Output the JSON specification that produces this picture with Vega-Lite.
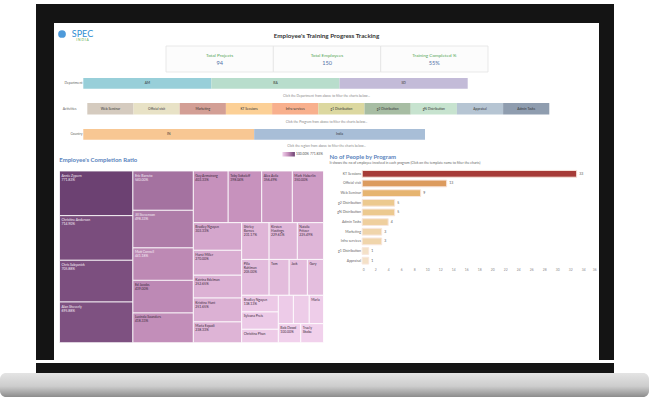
{
  "$schema": "https://vega.github.io/schema/vega-lite/v6.json",
  "padding": {"left": 0, "top": 4, "right": 0, "bottom": 0},
  "background": "white",
  "config": {"view": {"stroke": null}, "font": "Lato", "axis": {"labelFont": "Lato"}, "title": {"font": "Lato"}, "text": {"font": "Lato"}},
  "datasets": {
    "blank": [{}],
    "logo": [{"part": "icon"}, {"part": "word"}],
    "cards": [
      {"metric": "Total Projects", "value": "94"},
      {"metric": "Total Employees", "value": "150"},
      {"metric": "Training Completed %", "value": "55%"}
    ],
    "dept": [{"group": "Department", "seg": "AM"}, {"group": "Department", "seg": "BA"}, {"group": "Department", "seg": "SD"}],
    "acts": [
      {"group": "Activities", "seg": "Web Seminar"},
      {"group": "Activities", "seg": "Official visit"},
      {"group": "Activities", "seg": "Marketing"},
      {"group": "Activities", "seg": "KT Sessions"},
      {"group": "Activities", "seg": "Infra services"},
      {"group": "Activities", "seg": "g1 Distribution"},
      {"group": "Activities", "seg": "g2 Distribution"},
      {"group": "Activities", "seg": "gN Distribution"},
      {"group": "Activities", "seg": "Appraisal"},
      {"group": "Activities", "seg": "Admin Tasks"}
    ],
    "country": [{"group": "Country", "seg": "IN"}, {"group": "Country", "seg": "India"}],
    "legend": [{"slot": "lo", "label": "100.00%"}, {"slot": "grad", "label": ""}, {"slot": "hi", "label": "771.83%"}],
    "programs": [
      {"program": "KT Sessions", "count": 33},
      {"program": "Official visit", "count": 13},
      {"program": "Web Seminar", "count": 9},
      {"program": "g2 Distribution", "count": 5},
      {"program": "gN Distribution", "count": 5},
      {"program": "Admin Tasks", "count": 4},
      {"program": "Marketing", "count": 3},
      {"program": "Infra services", "count": 3},
      {"program": "g1 Distribution", "count": 1},
      {"program": "Appraisal", "count": 1}
    ],
    "people": [
      {"label": "Annie Zypern\n\n771.83%", "value": 771.83, "x0": 0, "x1": 27.8, "y0": 0, "y1": 26.0},
      {"label": "Christine Anderson\n\n714.90%", "value": 714.9, "x0": 0, "x1": 27.8, "y0": 26.0, "y1": 52.0},
      {"label": "Chris Sabyanick\n\n705.88%", "value": 705.88, "x0": 0, "x1": 27.8, "y0": 52.0, "y1": 76.3},
      {"label": "Alan Sheverly\n\n695.88%", "value": 695.88, "x0": 0, "x1": 27.8, "y0": 76.3, "y1": 100},
      {"label": "Eric Barreto\n\n540.00%", "value": 540, "x0": 27.8, "x1": 50.7, "y0": 0, "y1": 22.9},
      {"label": "Jill Stevenson\n\n498.33%", "value": 498.33, "x0": 27.8, "x1": 50.7, "y0": 22.9, "y1": 44.8},
      {"label": "Matt Connell\n\n441.18%", "value": 441.18, "x0": 27.8, "x1": 50.7, "y0": 44.8, "y1": 63.7},
      {"label": "Ed Jacobs\n\n439.00%", "value": 439, "x0": 27.8, "x1": 50.7, "y0": 63.7, "y1": 82.7},
      {"label": "Lucinda Saunders\n\n418.33%", "value": 418.33, "x0": 27.8, "x1": 50.7, "y0": 82.7, "y1": 100},
      {"label": "Guy Armstrong\n403.33%", "value": 403.33, "x0": 50.7, "x1": 63.9, "y0": 0, "y1": 30.1},
      {"label": "Toby Sokoleff\n\n398.04%", "value": 398.04, "x0": 63.9, "x1": 76.6, "y0": 0, "y1": 30.1},
      {"label": "Alex Avila\n\n356.49%", "value": 356.49, "x0": 76.6, "x1": 88.2, "y0": 0, "y1": 30.1},
      {"label": "Mark Haberlin\n\n350.00%", "value": 350, "x0": 88.2, "x1": 100, "y0": 0, "y1": 30.1},
      {"label": "Bradley Nguyen\n\n\n303.33%", "value": 303.33, "x0": 50.7, "x1": 69.0, "y0": 30.1, "y1": 46.2},
      {"label": "Hurst Miller\n\n270.00%", "value": 270, "x0": 50.7, "x1": 69.0, "y0": 46.2, "y1": 60.7},
      {"label": "Katrina Edelman\n\n252.65%", "value": 252.65, "x0": 50.7, "x1": 69.0, "y0": 60.7, "y1": 74.0},
      {"label": "Kristina Hunt\n\n251.65%", "value": 251.65, "x0": 50.7, "x1": 69.0, "y0": 74.0, "y1": 87.9},
      {"label": "Maria Ezpadi\n238.33%", "value": 238.33, "x0": 50.7, "x1": 69.0, "y0": 87.9, "y1": 100},
      {"label": "Shirley\nBarnes\n\n231.17%", "value": 231.17, "x0": 69.0, "x1": 79.4, "y0": 30.1, "y1": 51.5},
      {"label": "Kirsten\nHastings\n\n229.61%", "value": 229.61, "x0": 79.4, "x1": 90.1, "y0": 30.1, "y1": 51.5},
      {"label": "Natalie\nFritzer\n\n225.49%", "value": 225.49, "x0": 90.1, "x1": 100, "y0": 30.1, "y1": 51.5},
      {"label": "Pilla\nRuhlman\n205.00%", "value": 205, "x0": 69.0, "x1": 79.4, "y0": 51.5, "y1": 72.4},
      {"label": "Tom", "value": 200, "x0": 79.4, "x1": 87.0, "y0": 51.5, "y1": 72.4},
      {"label": "Jack", "value": 195, "x0": 87.0, "x1": 93.9, "y0": 51.5, "y1": 72.4},
      {"label": "Gary", "value": 190, "x0": 93.9, "x1": 100, "y0": 51.5, "y1": 72.4},
      {"label": "Bradley Nguyen\n138.13%", "value": 138.13, "x0": 69.0, "x1": 82.9, "y0": 72.4, "y1": 82.1},
      {"label": "Sylvana Preis", "value": 135, "x0": 69.0, "x1": 82.9, "y0": 82.1, "y1": 92.2},
      {"label": "Christina Phan", "value": 130, "x0": 69.0, "x1": 82.9, "y0": 92.2, "y1": 100},
      {"label": "", "value": 128, "x0": 82.9, "x1": 88.6, "y0": 72.4, "y1": 88.9},
      {"label": "", "value": 125, "x0": 88.6, "x1": 94.6, "y0": 72.4, "y1": 88.9},
      {"label": "Marla", "value": 120, "x0": 94.6, "x1": 100, "y0": 72.4, "y1": 88.9},
      {"label": "Bob Dowd\n\n100.00%", "value": 100, "x0": 82.9, "x1": 91.4, "y0": 88.9, "y1": 100},
      {"label": "Truely\nSkobe", "value": 100, "x0": 91.4, "x1": 100, "y0": 88.9, "y1": 100}
    ]
  },
  "spacing": 0,
  "resolve": {"scale": {"x": "independent", "y": "independent", "color": "independent"}},
  "vconcat": [
    {
      "hconcat": [
        {"width": 36, "height": 19, "data": {"name": "blank"}, "mark": {"type": "text", "text": "", "fontSize": 0.5}},
        {"width": 578, "height": 19, "data": {"name": "blank"}, "mark": {"type": "text", "text": "", "fontSize": 0.5}, "view": {"fill": "#141414", "stroke": null}}
      ],
      "spacing": 0
    },
    {
      "hconcat": [
        {"width": 36, "height": 1, "data": {"name": "blank"}, "mark": {"type": "text", "text": "", "fontSize": 0.5}},
        {"width": 18, "height": 337, "data": {"name": "blank"}, "mark": {"type": "text", "text": "", "fontSize": 0.5}, "view": {"fill": "#141414", "stroke": null}},
        {
          "spacing": 0,
          "resolve": {"scale": {"x": "independent", "y": "independent", "color": "independent"}},
          "vconcat": [
            {
              "width": 545, "height": 22,
              "layer": [
                {"data": {"name": "blank"}, "mark": {"type": "text", "text": "Employee's Training Progress Tracking", "fontSize": 6.3, "fontWeight": "bold", "color": "#333333", "dy": 1.7}},
                {"data": {"name": "logo"}, "transform": [{"filter": "datum.part === 'icon'"}],
                 "mark": {"type": "point", "filled": true, "size": 60, "color": "#3b8fd6", "opacity": 0.9},
                 "encoding": {"x": {"field": "part", "type": "nominal", "sort": null, "scale": {"domain": ["icon", "word"], "range": [-2.25, 38.75], "paddingInner": 0, "paddingOuter": 0}, "axis": null}}},
                {"data": {"name": "logo"}, "transform": [{"filter": "datum.part === 'word'"}],
                 "mark": {"type": "text", "text": "SPEC", "fontSize": 9, "color": "#2f8ed3", "dy": -0.5},
                 "encoding": {"x": {"field": "part", "type": "nominal", "sort": null, "scale": {"domain": ["icon", "word"], "range": [-2.25, 38.75], "paddingInner": 0, "paddingOuter": 0}, "axis": null}}},
                {"data": {"name": "logo"}, "transform": [{"filter": "datum.part === 'word'"}],
                 "mark": {"type": "text", "text": "I N D I A", "fontSize": 3.3, "color": "#5aa946", "dy": 6},
                 "encoding": {"x": {"field": "part", "type": "nominal", "sort": null, "scale": {"domain": ["icon", "word"], "range": [-2.25, 38.75], "paddingInner": 0, "paddingOuter": 0}, "axis": null}}}
              ]
            },
            {
              "width": 545, "height": 26,
              "data": {"name": "cards"},
              "encoding": {"x": {"field": "metric", "type": "nominal", "sort": null, "scale": {"range": [112, 434], "paddingInner": 0, "paddingOuter": 0}, "axis": null}},
              "layer": [
                {"mark": {"type": "rect", "fill": "#fcfcfc", "stroke": "#e3e3e3", "strokeWidth": 0.8}},
                {"mark": {"type": "text", "fontSize": 4.6, "color": "#55a655", "dy": -3}, "encoding": {"text": {"field": "metric"}}},
                {"mark": {"type": "text", "fontSize": 5.6, "color": "#4f6fa6", "dy": 3.7}, "encoding": {"text": {"field": "value"}}}
              ]
            },
            {
              "width": 545, "height": 15.7,
              "data": {"name": "dept"},
              "encoding": {
                "x": {"field": "seg", "type": "nominal", "sort": null, "scale": {"range": [29.3, 413.7], "paddingInner": 0, "paddingOuter": 0}, "axis": null},
                "y": {"field": "group", "type": "nominal", "scale": {"range": [5, 15.7], "paddingInner": 0, "paddingOuter": 0}, "axis": {"title": null, "offset": -28.5, "ticks": false, "domain": false, "labelPadding": 0.5, "labelFontSize": 3.4, "labelColor": "#666666"}}
              },
              "layer": [
                {"mark": {"type": "rect"}, "encoding": {"color": {"field": "seg", "type": "nominal", "scale": {"domain": ["AM", "BA", "SD"], "range": ["#98cfd9", "#b8ddcc", "#c3bbd8"]}, "legend": null}}},
                {"mark": {"type": "text", "fontSize": 3.3, "color": "#333333"}, "encoding": {"text": {"field": "seg"}}}
              ]
            },
            {"width": 545, "height": 14, "data": {"name": "blank"}, "mark": {"type": "text", "text": "Click the Department from above to filter the charts below...", "fontSize": 3.3, "color": "#888888"}},
            {
              "width": 545, "height": 11.6,
              "data": {"name": "acts"},
              "encoding": {
                "x": {"field": "seg", "type": "nominal", "sort": null, "scale": {"range": [33.3, 495.3], "paddingInner": 0, "paddingOuter": 0}, "axis": null},
                "y": {"field": "group", "type": "nominal", "scale": {"range": [0, 11.6], "paddingInner": 0, "paddingOuter": 0}, "axis": {"title": null, "offset": -22.5, "ticks": false, "domain": false, "labelPadding": 0.5, "labelFontSize": 3.4, "labelColor": "#666666"}}
              },
              "layer": [
                {"mark": {"type": "rect"}, "encoding": {"color": {"field": "seg", "type": "nominal", "scale": {"domain": ["Web Seminar", "Official visit", "Marketing", "KT Sessions", "Infra services", "g1 Distribution", "g2 Distribution", "gN Distribution", "Appraisal", "Admin Tasks"], "range": ["#d5cbbf", "#e8e2c6", "#d39f95", "#fcd096", "#f8b08d", "#dcd8a0", "#a7bda3", "#c7e3cf", "#b6c5d3", "#8f9daf"]}, "legend": null}}},
                {"mark": {"type": "text", "fontSize": 3.3, "color": "#333333"}, "encoding": {"text": {"field": "seg"}}}
              ]
            },
            {"width": 545, "height": 13.7, "data": {"name": "blank"}, "mark": {"type": "text", "text": "Click the Program from above to filter the charts below...", "fontSize": 3.3, "color": "#888888"}},
            {
              "width": 545, "height": 10.7,
              "data": {"name": "country"},
              "encoding": {
                "x": {"field": "seg", "type": "nominal", "sort": null, "scale": {"range": [29.3, 371], "paddingInner": 0, "paddingOuter": 0}, "axis": null},
                "y": {"field": "group", "type": "nominal", "scale": {"range": [0, 10.7], "paddingInner": 0, "paddingOuter": 0}, "axis": {"title": null, "offset": -28.5, "ticks": false, "domain": false, "labelPadding": 0.5, "labelFontSize": 3.4, "labelColor": "#666666"}}
              },
              "layer": [
                {"mark": {"type": "rect"}, "encoding": {"color": {"field": "seg", "type": "nominal", "scale": {"domain": ["IN", "India"], "range": ["#f8c793", "#a8bed7"]}, "legend": null}}},
                {"mark": {"type": "text", "fontSize": 3.3, "color": "#333333"}, "encoding": {"text": {"field": "seg"}}}
              ]
            },
            {"width": 545, "height": 12, "data": {"name": "blank"}, "mark": {"type": "text", "text": "Click the region from above to filter the charts below...", "fontSize": 3.3, "color": "#888888"}},
            {
              "spacing": 0,
              "resolve": {"scale": {"x": "independent", "y": "independent", "color": "independent"}},
              "hconcat": [
                {
                  "spacing": 0,
                  "resolve": {"scale": {"x": "independent", "y": "independent", "color": "independent"}},
                  "vconcat": [
                    {
                      "width": 269.5, "height": 4.5,
                      "data": {"name": "legend"},
                      "encoding": {"x": {"field": "slot", "type": "nominal", "sort": null, "scale": {"range": [227.7, 269.3], "paddingInner": 0, "paddingOuter": 0}, "axis": null}},
                      "layer": [
                        {"transform": [{"filter": "datum.slot === 'grad'"}],
                         "mark": {"type": "rect", "width": {"band": 0.9}, "fill": {"gradient": "linear", "x1": 0, "y1": 0, "x2": 1, "y2": 0, "stops": [{"offset": 0, "color": "#f1d1ec"}, {"offset": 0.45, "color": "#c792bd"}, {"offset": 1, "color": "#6c4172"}]}}},
                        {"transform": [{"filter": "datum.slot !== 'grad'"}],
                         "mark": {"type": "text", "fontSize": 3.3, "color": "#555555"}, "encoding": {"text": {"field": "label"}}}
                      ]
                    },
                    {
                      "width": 269.5, "height": 171.7,
                      "title": {"text": "Employee's Completion Ratio", "anchor": "start", "fontSize": 6, "fontWeight": "bold", "color": "#5a84bd", "offset": 7.5, "dx": 5.3},
                      "data": {"name": "people"},
                      "encoding": {
                        "x": {"field": "x0", "type": "quantitative", "scale": {"domain": [0, 100], "range": [5.5, 269.5], "nice": false, "zero": false}, "axis": null},
                        "y": {"field": "y0", "type": "quantitative", "scale": {"domain": [0, 100], "range": [0, 171.7], "nice": false, "zero": false}, "axis": null}
                      },
                      "layer": [
                        {"mark": {"type": "rect", "stroke": "white", "strokeWidth": 0.8},
                         "encoding": {"x2": {"field": "x1"}, "y2": {"field": "y1"},
                           "color": {"field": "value", "type": "quantitative", "scale": {"domain": [100, 400, 771.83], "range": ["#f1d1ec", "#c792bd", "#6c4172"]}, "legend": null}}},
                        {"mark": {"type": "text", "align": "left", "baseline": "top", "dx": 2, "dy": 2.5, "fontSize": 3.4, "lineBreak": "\n", "lineHeight": 4},
                         "encoding": {"text": {"field": "label"},
                           "color": {"condition": {"test": "datum.value > 440", "value": "#f6eef6"}, "value": "#3b2b3b"}}}
                      ]
                    }
                  ]
                },
                {
                  "spacing": 0,
                  "resolve": {"scale": {"x": "independent", "y": "independent", "color": "independent"}},
                  "vconcat": [
                    {"width": 1, "height": 2, "data": {"name": "blank"}, "mark": {"type": "text", "text": "", "fontSize": 0.5}},
                    {
                      "width": 272.5, "height": 96.5,
                      "title": {"text": "No of People by Program", "subtitle": "It shows the no of employee involved in each program (Click on the template name to filter the charts)", "anchor": "start", "fontSize": 6, "fontWeight": "bold", "color": "#5a84bd", "subtitleFontSize": 3.4, "subtitleColor": "#666666", "subtitlePadding": 1, "offset": 4.4, "dx": 5.5},
                      "data": {"name": "programs"},
                      "encoding": {
                        "y": {"field": "program", "type": "nominal", "sort": null, "scale": {"paddingInner": 0.3, "paddingOuter": 0.15}, "axis": {"title": null, "offset": -38.2, "ticks": false, "domain": false, "labelPadding": 1.7, "labelFontSize": 3.5, "labelColor": "#666666"}},
                        "x": {"field": "count", "type": "quantitative", "scale": {"domain": [0, 36], "range": [38.2, 272.2], "nice": false}, "axis": {"title": null, "values": [0, 2, 4, 6, 8, 10, 12, 14, 16, 18, 20, 22, 24, 26, 28, 30, 32, 34, 36], "ticks": false, "domain": false, "grid": false, "labelFontSize": 3.3, "labelColor": "#888888", "labelPadding": 2, "labelFlush": true}}
                      },
                      "layer": [
                        {"mark": {"type": "bar", "stroke": "#f8e6dc", "strokeWidth": 1},
                         "encoding": {"color": {"field": "count", "type": "quantitative", "scale": {"domain": [1, 3, 4, 5, 9, 13, 33], "range": ["#f4e1c7", "#f0d5ab", "#efcf9e", "#ecc98f", "#e6b470", "#dc9b5e", "#a63b37"]}, "legend": null}}},
                        {"mark": {"type": "text", "align": "left", "dx": 2.5, "fontSize": 3.5, "color": "#555555"}, "encoding": {"text": {"field": "count"}}}
                      ]
                    }
                  ]
                }
              ]
            },
            {"width": 545, "height": 18.6, "data": {"name": "blank"}, "mark": {"type": "text", "text": "", "fontSize": 0.5}}
          ]
        },
        {"width": 15, "height": 337, "data": {"name": "blank"}, "mark": {"type": "text", "text": "", "fontSize": 0.5}, "view": {"fill": "#141414", "stroke": null}}
      ],
      "spacing": 0,
      "resolve": {"scale": {"x": "independent", "y": "independent", "color": "independent"}}
    },
    {
      "hconcat": [
        {"width": 36, "height": 10, "data": {"name": "blank"}, "mark": {"type": "text", "text": "", "fontSize": 0.5}},
        {"width": 578, "height": 10, "data": {"name": "blank"}, "mark": {"type": "text", "text": "", "fontSize": 0.5}, "view": {"fill": "#141414", "stroke": null}}
      ],
      "spacing": 0
    },
    {"width": 649, "height": 24, "data": {"name": "blank"}, "mark": {"type": "text", "text": "", "fontSize": 0.5},
     "view": {"stroke": null, "cornerRadius": 6, "fill": {"gradient": "linear", "x1": 0, "y1": 0, "x2": 0, "y2": 1, "stops": [{"offset": 0, "color": "#e4e4e4"}, {"offset": 0.55, "color": "#cdcdcd"}, {"offset": 1, "color": "#8c8c8c"}]}}}
  ]
}
